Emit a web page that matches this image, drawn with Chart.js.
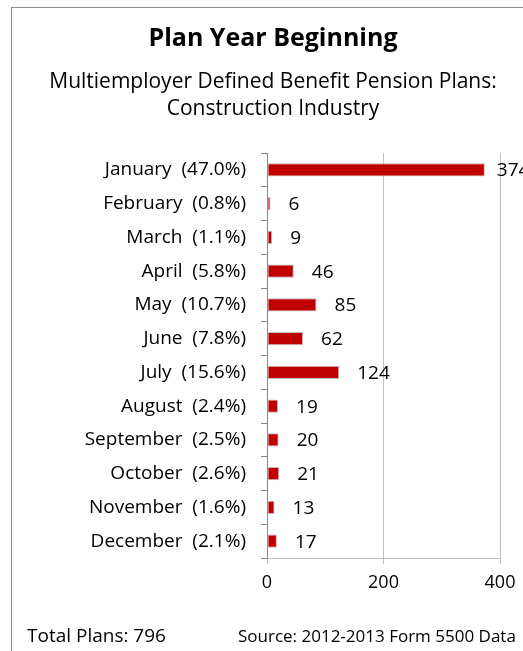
<!DOCTYPE html>
<html>
<head>
<meta charset="utf-8">
<script src="https://cdn.jsdelivr.net/npm/chart.js@4/dist/chart.umd.min.js"></script>
<style>
  html, body { margin: 0; padding: 0; background: #fff; overflow: hidden; }
  body { width: 523px; height: 651px; position: relative; font-family: "Open Sans", sans-serif; }
  .frame { position: absolute; left: 11px; top: 7px; width: 522px; height: 660px; border: 1px solid #8c8c8c; }
  .frame canvas { display: block; }
  .note { position: absolute; color: #000; white-space: nowrap; line-height: 1; }
</style>
</head>
<body>
<div class="frame"><canvas id="c" width="522" height="660"></canvas></div>
<div class="note" style="left:27px; top:626px; font-size:19px">Total Plans: 796</div>
<div class="note" style="left:238px; top:627px; font-size:17px">Source: 2012-2013 Form 5500 Data</div>
<script>
/* plan year beginning — construction industry, 2012-2013 Form 5500 */
const months = ["January", "February", "March", "April", "May", "June", "July",
  "August", "September", "October", "November", "December"];
const shares = ["47.0", "0.8", "1.1", "5.8", "10.7", "7.8", "15.6", "2.4", "2.5", "2.6", "1.6", "2.1"];
const plans = [374, 6, 9, 46, 85, 62, 124, 19, 20, 21, 13, 17];
const xTicks = [0, 200, 400];

const FONT = "'Open Sans', sans-serif";
const labels = months.map((m, i) => `${m}  (${shares[i]}%)`);

// value labels just past the end of each bar
const barValues = {
  id: "barValues",
  afterDatasetsDraw(chart) {
    const ctx = chart.ctx;
    const meta = chart.getDatasetMeta(0);
    ctx.save();
    ctx.font = "19px " + FONT;
    ctx.fillStyle = "#000";
    ctx.textAlign = "left";
    ctx.textBaseline = "middle";
    meta.data.forEach((bar, i) => {
      const gap = plans[i] > 300 ? 12 : 18;
      ctx.fillText(String(plans[i]), bar.x + gap, bar.y + 1);
    });
    ctx.restore();
  },
};

new Chart(document.getElementById("c"), {
  type: "bar",
  data: {
    labels,
    datasets: [{
      data: plans,
      backgroundColor: "#c00000",
      borderColor: "rgba(175,175,175,0.8)",
      borderWidth: 1,
      borderSkipped: false,
      barPercentage: 0.39,
      categoryPercentage: 1,
    }],
  },
  options: {
    responsive: false,
    animation: false,
    indexAxis: "y",
    // equal side padding keeps the titles centred on the frame
    layout: { padding: { left: 34, right: 34, top: 0, bottom: 50 } },
    plugins: {
      legend: { display: false },
      tooltip: { enabled: false },
      title: {
        display: true,
        text: "Plan Year Beginning",
        color: "#000",
        font: { family: FONT, size: 25, weight: "bold", lineHeight: 1.2 },
        padding: { top: 16, bottom: 14 },
      },
      subtitle: {
        display: true,
        text: ["Multiemployer Defined Benefit Pension Plans:", "Construction Industry"],
        color: "#000",
        font: { family: FONT, size: 21, lineHeight: 1.31 },
        padding: { top: 0, bottom: 30 },
      },
    },
    scales: {
      x: {
        min: 0,
        max: 400,
        afterBuildTicks: s => { s.ticks = xTicks.map(v => ({ value: v })); },
        afterFit: s => { s.height = 60; },
        grid: { color: "#c0c0c0", lineWidth: 1, tickLength: 6, drawTicks: true },
        border: { color: "#c0c0c0" },
        ticks: { color: "#000", padding: 8, font: { family: FONT, size: 18 } },
      },
      y: {
        afterFit: s => { s.width = 221; },
        grid: { drawOnChartArea: false, color: "#868686", tickLength: 6, offset: true },
        border: { color: "#868686" },
        ticks: { color: "#000", padding: 15, font: { family: FONT, size: 19 } },
      },
    },
  },
  plugins: [barValues],
});
</script>
</body>
</html>
